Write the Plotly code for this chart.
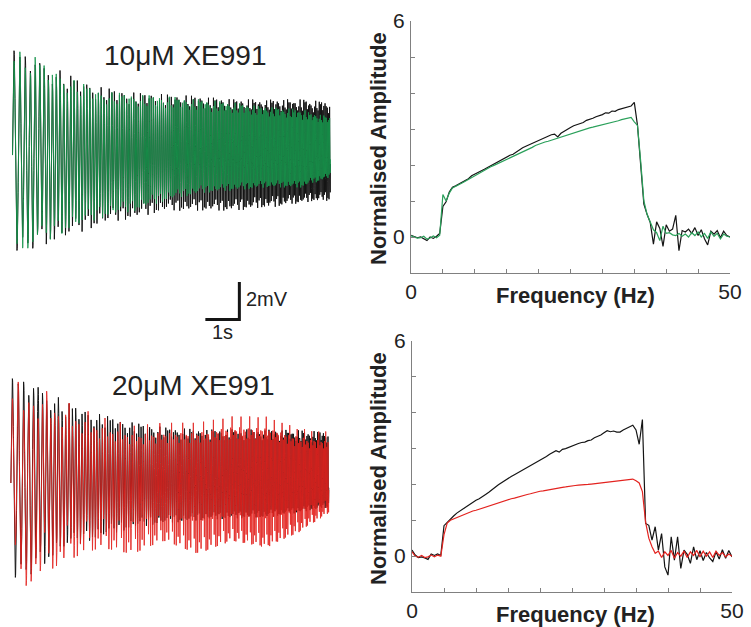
import numpy as np
import plotly.graph_objects as go

# ---------------- frequency-response data (Normalised Amplitude vs Hz) ----------------
FREQ_HZ = [i * 0.5 for i in range(101)]

TOP_CONTROL = [0.05, 0.02, -0.02, 0.00, -0.06, -0.10, 0.00, -0.04, 0.02, 0.10,
               0.85, 0.98, 1.25, 1.38, 1.42, 1.46, 1.52, 1.57, 1.62, 1.70,
               1.74, 1.78, 1.82, 1.88, 1.93, 1.98, 2.02, 2.06, 2.12, 2.16,
               2.21, 2.27, 2.30, 2.36, 2.43, 2.48, 2.52, 2.56, 2.60, 2.64,
               2.70, 2.73, 2.76, 2.80, 2.84, 2.86, 2.78, 2.88, 2.94, 2.98,
               3.04, 3.09, 3.12, 3.15, 3.18, 3.24, 3.26, 3.30, 3.34, 3.36,
               3.40, 3.45, 3.44, 3.50, 3.49, 3.54, 3.56, 3.60, 3.62, 3.64,
               3.74, 3.10, 2.00, 0.91, 0.63, 0.40, -0.20, 0.42, 0.24, -0.26,
               0.34, 0.16, 0.22, 0.60, -0.38, 0.18, 0.14, 0.22, 0.10, 0.26,
               0.04, 0.20, -0.05, -0.22, 0.16, 0.08, 0.18, -0.02, 0.16, 0.04,
               0.00]
TOP_XE10 = [0.03, 0.00, -0.03, -0.02, 0.02, -0.06, -0.03, 0.03, -0.02, 0.05,
            1.18, 1.00, 1.22, 1.36, 1.40, 1.45, 1.50, 1.55, 1.60, 1.66,
            1.72, 1.76, 1.80, 1.86, 1.90, 1.95, 1.99, 2.03, 2.08, 2.12,
            2.16, 2.20, 2.24, 2.28, 2.33, 2.37, 2.41, 2.45, 2.49, 2.54,
            2.58, 2.61, 2.64, 2.66, 2.69, 2.71, 2.74, 2.78, 2.80, 2.84,
            2.86, 2.90, 2.92, 2.95, 2.97, 3.00, 3.03, 3.05, 3.07, 3.09,
            3.11, 3.13, 3.15, 3.18, 3.20, 3.23, 3.26, 3.28, 3.30, 3.32,
            3.20, 3.10, 2.10, 1.00, 0.63, 0.40, 0.20, 0.12, -0.10, 0.30,
            0.10, 0.12, 0.06, 0.04, 0.10, 0.02, 0.08, 0.00, 0.12, 0.04,
            0.14, 0.00, 0.10, -0.04, 0.14, 0.02, 0.10, -0.05, 0.08, 0.02,
            0.00]
BOT_CONTROL = [0.17, 0.03, -0.04, -0.02, -0.05, -0.09, 0.06, 0.02, 0.06, 0.02,
               0.85, 0.95, 1.02, 1.12, 1.20, 1.26, 1.33, 1.40, 1.45, 1.51,
               1.56, 1.60, 1.65, 1.72, 1.78, 1.84, 1.92, 1.99, 2.05, 2.12,
               2.18, 2.22, 2.27, 2.32, 2.37, 2.42, 2.46, 2.52, 2.56, 2.62,
               2.68, 2.72, 2.78, 2.84, 2.88, 2.94, 2.90, 2.98, 3.00, 3.04,
               3.08, 3.10, 3.14, 3.17, 3.18, 3.22, 3.24, 3.30, 3.33, 3.38,
               3.44, 3.50, 3.47, 3.49, 3.46, 3.46, 3.52, 3.56, 3.60, 3.65,
               3.52, 3.12, 3.81, 0.91, 0.86, 0.45, 0.82, 0.17, 0.63, -0.30,
               -0.53, 0.54, -0.11, 0.54, -0.34, 0.17, 0.05, -0.20, 0.26, -0.10,
               0.15, -0.12, 0.10, -0.05, -0.15, 0.12, -0.08, 0.18, -0.06, 0.16,
               -0.02]
BOT_XE20 = [0.12, 0.00, -0.03, 0.02, -0.04, -0.02, 0.03, -0.02, 0.03, 0.00,
            0.60, 0.92, 1.00, 1.04, 1.08, 1.12, 1.15, 1.19, 1.22, 1.26,
            1.28, 1.31, 1.34, 1.37, 1.41, 1.44, 1.47, 1.50, 1.52, 1.55,
            1.57, 1.60, 1.62, 1.65, 1.67, 1.70, 1.72, 1.74, 1.77, 1.79,
            1.81, 1.82, 1.84, 1.85, 1.87, 1.88, 1.90, 1.92, 1.93, 1.95,
            1.96, 1.97, 1.98, 1.98, 1.99, 2.00, 2.01, 2.02, 2.03, 2.05,
            2.06, 2.07, 2.08, 2.09, 2.10, 2.11, 2.12, 2.14, 2.15, 2.15,
            2.10, 2.04, 1.80, 0.95, 0.50, 0.26, 0.08, 0.14, -0.04, 0.12,
            0.02, 0.16, -0.06, 0.10, 0.00, 0.14, -0.04, 0.12, 0.02, 0.16,
            -0.02, 0.14, 0.00, 0.12, -0.04, 0.14, 0.02, 0.10, -0.02, 0.06,
            0.00]

# ---------------- voltage traces: envelopes (mV about baseline) ----------------
ENV_T = [0.1, 0.6, 1.6, 2.6, 3.6, 4.5, 5.5, 6.5, 7.5, 8.5, 9.35]   # s from trace start
TOP_CTRL_UP = [5.57, 5.30, 4.32, 3.62, 3.35, 3.24, 3.14, 2.97, 2.97, 2.97, 2.86]
TOP_CTRL_LO = [5.84, 4.97, 4.43, 3.68, 3.35, 2.97, 2.97, 2.97, 2.81, 2.59, 2.43]
TOP_XE_UP = [5.57, 5.30, 4.16, 3.41, 3.24, 3.14, 2.97, 2.81, 2.59, 2.43, 2.05]
TOP_XE_LO = [5.68, 4.97, 4.05, 3.35, 2.97, 2.43, 2.05, 1.89, 1.73, 1.73, 1.19]
BOT_CTRL_UP = [5.57, 5.57, 4.32, 3.68, 3.24, 2.97, 2.86, 2.86, 2.86, 2.81, 2.76]
BOT_CTRL_LO = [5.78, 4.86, 3.46, 2.92, 2.38, 2.16, 2.00, 1.90, 1.84, 1.60, 1.30]
BOT_XE_UP = [6.00, 5.95, 4.86, 3.95, 3.41, 3.57, 3.57, 3.95, 3.95, 3.24, 3.03]
BOT_XE_LO = [6.05, 5.24, 4.16, 3.46, 3.78, 3.08, 3.78, 3.08, 3.46, 2.60, 1.60]
CHIRP_HZ = [5.5, 30.0]        # stimulus start / end frequency
PEAK_SCALE_A = [1.0, 0.88, 0.95, 0.80, 0.97, 0.90, 0.84, 1.0, 0.92, 0.86, 0.96, 0.82, 0.93]
PEAK_SCALE_B = [1.0, 0.70, 0.85, 0.60, 0.95, 0.75, 0.55, 0.90, 0.80, 0.65, 1.0, 0.72]
SCALE_BAR = {"s": 1.0, "mV": 2.0}

TITLES = ["10\u03bcM XE991", "20\u03bcM XE991"]

BLACK = "#141414"
GREEN = "#17954c"
GREEN_L = "#2aa05a"
RED = "#e3231f"
AXIS = "#808080"
FONT = "Liberation Sans, Arial, sans-serif"


def chirp(up, lo, scale, off):
    T = ENV_T[-1]
    t = np.linspace(0, T, 3200)
    f0, f1 = CHIRP_HZ
    ph = 2 * np.pi * (f0 * t + (f1 - f0) * t ** 2 / (2 * T))
    s = np.sin(ph)
    k = np.floor(ph / np.pi).astype(int)
    j = np.array(scale)[(k + off) % len(scale)]
    amp = np.where(s >= 0, np.interp(t, ENV_T, up), np.interp(t, ENV_T, lo)) * j
    return t, amp * s


fig = go.Figure()

# left column traces (x3/y3: seconds, mV)
panels = [
    (0.368, 25.17, TOP_CTRL_UP, TOP_CTRL_LO, TOP_XE_UP, TOP_XE_LO, GREEN, PEAK_SCALE_A),
    (0.32, 7.68, BOT_CTRL_UP, BOT_CTRL_LO, BOT_XE_UP, BOT_XE_LO, RED, PEAK_SCALE_B),
]
for t0, base, cu, cl, xu, xl, col, sc in panels:
    t, v = chirp(cu, cl, PEAK_SCALE_A, 0)
    fig.add_trace(go.Scatter(x=t + t0, y=v + base, mode="lines", xaxis="x3", yaxis="y3",
                             line=dict(color=BLACK, width=1), hoverinfo="skip", showlegend=False))
    t, v = chirp(xu, xl, sc, 5)
    fig.add_trace(go.Scatter(x=t + t0, y=v + base, mode="lines", xaxis="x3", yaxis="y3",
                             line=dict(color=col, width=1), opacity=0.92,
                             hoverinfo="skip", showlegend=False))

# scale bar
bx, by = 7.04, 16.4
fig.add_trace(go.Scatter(x=[bx - SCALE_BAR["s"], bx, bx], y=[by, by, by + SCALE_BAR["mV"]],
                         mode="lines", xaxis="x3", yaxis="y3",
                         line=dict(color=BLACK, width=3), hoverinfo="skip", showlegend=False))

# right column frequency responses
fig.add_trace(go.Scatter(x=FREQ_HZ, y=TOP_CONTROL, mode="lines", line=dict(color=BLACK, width=1.2),
                         xaxis="x", yaxis="y", showlegend=False))
fig.add_trace(go.Scatter(x=FREQ_HZ, y=TOP_XE10, mode="lines", line=dict(color=GREEN_L, width=1.2),
                         xaxis="x", yaxis="y", showlegend=False))
fig.add_trace(go.Scatter(x=FREQ_HZ, y=BOT_CONTROL, mode="lines", line=dict(color=BLACK, width=1.2),
                         xaxis="x2", yaxis="y2", showlegend=False))
fig.add_trace(go.Scatter(x=FREQ_HZ, y=BOT_XE20, mode="lines", line=dict(color=RED, width=1.2),
                         xaxis="x2", yaxis="y2", showlegend=False))


def xax(domain, anchor):
    return dict(domain=domain, anchor=anchor, range=[0, 50], showgrid=False, zeroline=False,
                showline=True, linecolor=AXIS, linewidth=1, ticks="inside", ticklen=4,
                tickcolor=AXIS, tickvals=list(range(0, 51, 5)),
                ticktext=["0"] + [""] * 9 + ["50"], tickfont=dict(size=21, color="#222", family=FONT),
                ticklabelstandoff=0, fixedrange=True, automargin=False)


def yax(domain, anchor):
    return dict(domain=domain, anchor=anchor, range=[-1, 6], showgrid=False, zeroline=False,
                showline=True, linecolor=AXIS, linewidth=1, ticks="inside", ticklen=4,
                tickcolor=AXIS, tickvals=list(range(0, 7)),
                ticktext=["0", "", "", "", "", "", "6"], tickfont=dict(size=21, color="#222", family=FONT),
                ticklabelstandoff=1, fixedrange=True, automargin=False)


W, H = 751, 627
fig.update_layout(
    width=W, height=H, margin=dict(l=0, r=0, t=0, b=0, pad=0, autoexpand=False),
    paper_bgcolor="white", plot_bgcolor="rgba(0,0,0,0)",
    font=dict(family=FONT, color="#222"),
    xaxis=xax([411 / W, 730 / W], "y"),
    yaxis=yax([1 - 273 / H, 1 - 21 / H], "x"),
    xaxis2=xax([412 / W, 732 / W], "y2"),
    yaxis2=yax([1 - 592 / H, 1 - 341 / H], "x2"),
    xaxis3=dict(domain=[0, 340 / W], anchor="y3", range=[0, 10], visible=False, fixedrange=True,
                automargin=False),
    yaxis3=dict(domain=[0, 1], anchor="x3", range=[0, H / 18.75], visible=False, fixedrange=True,
                automargin=False),
)

ann = []
ann.append(dict(text=TITLES[0], x=185 / W, y=1 - 55 / H, font=dict(size=28, color="#222")))
ann.append(dict(text=TITLES[1], x=193 / W, y=1 - 385 / H, font=dict(size=28, color="#222")))
ann.append(dict(text="2mV", x=244 / W, y=1 - 299 / H, xanchor="left", font=dict(size=20, color="#222")))
ann.append(dict(text="1s", x=222 / W, y=1 - 332 / H, font=dict(size=20, color="#222")))
for yc in (295, 614):
    ann.append(dict(text="<b>Frequency (Hz)</b>", x=575 / W, y=1 - yc / H, font=dict(size=22, color="#222")))
for yc in (149, 469):
    ann.append(dict(text="<b>Normalised Amplitude</b>", x=378 / W, y=1 - yc / H, textangle=-90,
                    font=dict(size=22, color="#222")))
for a in ann:
    a.update(xref="paper", yref="paper", showarrow=False)
    a.setdefault("xanchor", "center")
    a["yanchor"] = "middle"
fig.update_layout(annotations=ann)

fig.write_html("out.html", config={"displayModeBar": False},
               post_script="document.body.style.margin='0px';document.body.style.overflow='hidden';")
